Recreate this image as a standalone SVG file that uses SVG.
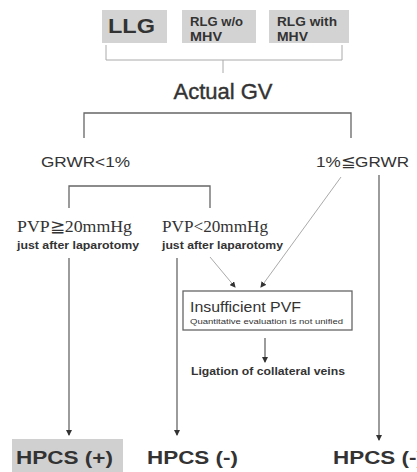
<svg xmlns="http://www.w3.org/2000/svg" width="417" height="472" viewBox="0 0 417 472">
<style>
.s{font-family:"Liberation Sans",Arial,sans-serif;fill:#333333}
.b{font-weight:bold}
.t{font-family:"Liberation Serif","Times New Roman",serif;fill:#333333}
.ln{stroke:#666666;stroke-width:1.3;fill:none}
.lt{stroke:#aaaaaa;stroke-width:1;fill:none}
.box{fill:#d3d3d3}
</style>
<defs>
<marker id="ah" markerWidth="6" markerHeight="6" refX="5" refY="3" orient="auto" markerUnits="userSpaceOnUse">
<path d="M0,0 L6,3 L0,6 Z" fill="#333"/>
</marker>
</defs>
<rect width="417" height="472" fill="#ffffff"/>
<g id="llg"><rect class="box" x="102" y="10" width="65" height="33"/><text class="s b" x="108" y="33" font-size="20" textLength="47" lengthAdjust="spacingAndGlyphs">LLG</text></g>
<g id="rlg-wo"><rect class="box" x="182" y="10" width="74" height="33"/><text class="s b" x="190" y="26" font-size="12" textLength="53" lengthAdjust="spacingAndGlyphs">RLG w/o</text><text class="s b" x="190" y="41" font-size="12" textLength="32" lengthAdjust="spacingAndGlyphs">MHV</text></g>
<g id="rlg-with"><rect class="box" x="269" y="10" width="80" height="33"/><text class="s b" x="277" y="26" font-size="12" textLength="60" lengthAdjust="spacingAndGlyphs">RLG with</text><text class="s b" x="277" y="41" font-size="12" textLength="31" lengthAdjust="spacingAndGlyphs">MHV</text></g>
<g id="actual-gv"><text class="s" x="223" y="99" font-size="22" text-anchor="middle" stroke="#333" stroke-width="0.4">Actual GV</text></g>
<g id="grwr-low"><text class="s" x="41" y="167" font-size="15.5" textLength="89" lengthAdjust="spacingAndGlyphs">GRWR&lt;1%</text></g>
<g id="grwr-high"><text class="s" x="316" y="167" font-size="15.5" textLength="93" lengthAdjust="spacingAndGlyphs">1%≦GRWR</text></g>
<g id="pvp-high"><text class="t" x="17" y="232" font-size="16.5" textLength="115" lengthAdjust="spacingAndGlyphs">PVP≧20mmHg</text><text class="s b" x="17" y="249" font-size="10.5" textLength="122" lengthAdjust="spacingAndGlyphs">just after laparotomy</text></g>
<g id="pvp-low"><text class="t" x="162" y="232" font-size="16.5" textLength="106" lengthAdjust="spacingAndGlyphs">PVP&lt;20mmHg</text><text class="s b" x="162" y="249" font-size="10.5" textLength="121" lengthAdjust="spacingAndGlyphs">just after laparotomy</text></g>
<g id="pvf"><rect x="183" y="291" width="169" height="39" fill="#ffffff" stroke="#666666" stroke-width="1.3"/><text class="s" x="190" y="312" font-size="15" textLength="111" lengthAdjust="spacingAndGlyphs">Insufficient PVF</text><text class="s" x="190" y="324" font-size="8" textLength="153" lengthAdjust="spacingAndGlyphs">Quantitative evaluation is not unified</text></g>
<g id="ligation"><text class="s b" x="191" y="375" font-size="10.5" textLength="154" lengthAdjust="spacingAndGlyphs">Ligation of collateral veins</text></g>
<g id="hpcs-pos"><rect x="12" y="439" width="111" height="33" fill="#d0d0d0"/><text class="s b" x="16" y="464" font-size="19" textLength="97" lengthAdjust="spacingAndGlyphs">HPCS (+)</text></g>
<g id="hpcs-neg1"><text class="s b" x="147" y="464" font-size="19" textLength="91" lengthAdjust="spacingAndGlyphs">HPCS (-)</text></g>
<g id="hpcs-neg2"><text class="s b" x="333" y="464" font-size="19" textLength="91" lengthAdjust="spacingAndGlyphs">HPCS (-)</text></g>
<g id="connectors">
<path class="lt" d="M106,45 V60 H342 V45 M223,60 V73"/>
<path class="ln" d="M84,138 V113 H351 V138"/>
<path class="ln" d="M69,208 V186 H210 V208"/>
<path class="ln" d="M69,258 V435" marker-end="url(#ah)"/>
<path class="ln" d="M177,258 V435" marker-end="url(#ah)"/>
<path class="ln" d="M379,175 V440" marker-end="url(#ah)"/>
<path class="lt" d="M210,257 L235,287" marker-end="url(#ah)"/>
<path class="lt" d="M341,177 L261,287" marker-end="url(#ah)"/>
<path class="ln" d="M265,338 V362" marker-end="url(#ah)"/>
</g>
</svg>
